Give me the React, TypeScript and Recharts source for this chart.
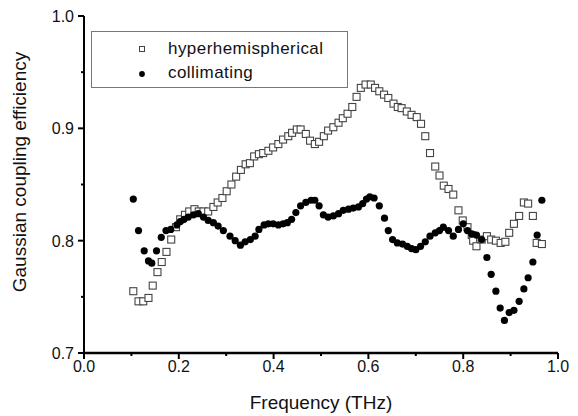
import { ScatterChart, Scatter, XAxis, YAxis, Label } from "recharts";

// frequency (THz) / coupling efficiency
const hyperFreq = [
  0.104, 0.115, 0.125, 0.136, 0.145, 0.155, 0.164, 0.174, 0.184, 0.194, 0.203, 0.213, 0.222,
  0.233, 0.242, 0.252, 0.262, 0.273, 0.282, 0.292, 0.301, 0.311, 0.321, 0.331, 0.341, 0.35,
  0.359, 0.369, 0.378, 0.389, 0.399, 0.41, 0.42, 0.431, 0.439, 0.449, 0.457, 0.468, 0.477,
  0.487, 0.496, 0.506, 0.515, 0.526, 0.537, 0.546, 0.556, 0.566, 0.575, 0.584, 0.594, 0.605,
  0.614, 0.623, 0.633, 0.642, 0.653, 0.662, 0.67, 0.681, 0.691, 0.702, 0.711, 0.72, 0.73,
  0.741, 0.75, 0.759, 0.769, 0.779, 0.79, 0.799, 0.809, 0.818, 0.821, 0.828, 0.839, 0.85,
  0.859, 0.869, 0.879, 0.889, 0.897, 0.907, 0.918, 0.928, 0.937, 0.947, 0.955, 0.966,
];
const hyperEff = [
  0.755, 0.746, 0.746, 0.749, 0.76, 0.772, 0.781, 0.79, 0.801, 0.812, 0.819, 0.823, 0.826,
  0.828, 0.826, 0.826, 0.826, 0.83, 0.834, 0.838, 0.844, 0.85, 0.857, 0.863, 0.868, 0.869,
  0.875, 0.877, 0.878, 0.88, 0.883, 0.886, 0.89, 0.893, 0.896, 0.899, 0.899, 0.895, 0.889,
  0.886, 0.888, 0.893, 0.898, 0.901, 0.905, 0.909, 0.913, 0.919, 0.928, 0.936, 0.939, 0.939,
  0.936, 0.933, 0.93, 0.927, 0.922, 0.919, 0.918, 0.915, 0.912, 0.91, 0.904, 0.893, 0.878,
  0.866, 0.858, 0.849, 0.846, 0.841, 0.827, 0.818, 0.812, 0.805, 0.8, 0.795, 0.801, 0.804,
  0.801, 0.8, 0.798, 0.799, 0.807, 0.815, 0.822, 0.834, 0.833, 0.822, 0.798, 0.797,
];

const collFreq = [
  0.104, 0.115, 0.127, 0.136, 0.143, 0.153, 0.163, 0.173, 0.183, 0.196, 0.203, 0.211, 0.22,
  0.231, 0.241, 0.252, 0.262, 0.273, 0.283, 0.294, 0.308, 0.319, 0.33, 0.34, 0.351, 0.361,
  0.369, 0.38, 0.389, 0.399, 0.41, 0.42, 0.429, 0.438, 0.447, 0.457, 0.468, 0.479, 0.487,
  0.496, 0.505, 0.515, 0.526, 0.537, 0.547, 0.558, 0.568, 0.579, 0.588, 0.596, 0.603, 0.612,
  0.623, 0.634, 0.642, 0.651, 0.661, 0.672, 0.682, 0.691, 0.7, 0.71, 0.72, 0.73, 0.741, 0.75,
  0.758, 0.769, 0.779, 0.79, 0.8, 0.809, 0.818, 0.828, 0.839, 0.85, 0.859, 0.869, 0.878,
  0.887, 0.897, 0.907, 0.918, 0.928, 0.937, 0.947, 0.956, 0.966,
];
const collEff = [
  0.837, 0.809, 0.791, 0.782, 0.78, 0.791, 0.803, 0.809, 0.81, 0.814, 0.817, 0.819, 0.821,
  0.823, 0.824, 0.821, 0.818, 0.816, 0.813, 0.809, 0.804, 0.8, 0.796, 0.799, 0.801, 0.804,
  0.81, 0.814, 0.815, 0.815, 0.814, 0.815, 0.816, 0.819, 0.825, 0.831, 0.834, 0.836, 0.836,
  0.831, 0.823, 0.821, 0.822, 0.824, 0.827, 0.828, 0.829, 0.83, 0.833, 0.837, 0.839, 0.838,
  0.831, 0.82, 0.809, 0.801, 0.798, 0.797, 0.795, 0.793, 0.792, 0.795, 0.799, 0.804, 0.807,
  0.809, 0.812, 0.809, 0.804, 0.81, 0.815, 0.809, 0.806, 0.805, 0.801, 0.785, 0.77, 0.755,
  0.74, 0.729, 0.736, 0.738, 0.746, 0.757, 0.767, 0.781, 0.805, 0.836,
];

const xTicks = [0, 0.1, 0.2, 0.3, 0.4, 0.5, 0.6, 0.7, 0.8, 0.9, 1.0];
const yTicks = [0.7, 0.75, 0.8, 0.85, 0.9, 0.95, 1.0];

const hyperData = hyperFreq.map((f, i) => ({ f, e: hyperEff[i] }));
const collData = collFreq.map((f, i) => ({ f, e: collEff[i] }));

const FONT = "'Liberation Sans', Arial, sans-serif";

const isMajor = (v: number) => Math.abs(Math.round(v * 10) - v * 10) < 1e-6 && Math.round(v * 10) % 2 === 0;
const isMajorY = (v: number) => Math.abs(Math.round(v * 10) - v * 10) < 1e-6;

function XTick({ x, y, payload }: any) {
  const major = isMajor(payload.value);
  return (
    <g>
      <line x1={x} x2={x} y1={y} y2={y + (major ? 6 : 3)} stroke="#000" strokeWidth={2} />
      {major && (
        <text x={x} y={y + 19} textAnchor="middle" fontSize={16} fontFamily={FONT} fill="#111">
          {payload.value.toFixed(1)}
        </text>
      )}
    </g>
  );
}

function YTick({ x, y, payload }: any) {
  const major = isMajorY(payload.value);
  return (
    <g>
      <line x1={x} x2={x - (major ? 6 : 3)} y1={y} y2={y} stroke="#000" strokeWidth={2} />
      {major && (
        <text x={x - 10} y={y + 6} textAnchor="end" fontSize={16} fontFamily={FONT} fill="#111">
          {payload.value.toFixed(1)}
        </text>
      )}
    </g>
  );
}

const SquareMark = ({ cx, cy }: any) => (
  <rect x={cx - 3.5} y={cy - 3.5} width={7} height={7} fill="#fff" stroke="#444" strokeWidth={1.1} />
);
const DotMark = ({ cx, cy }: any) => <circle cx={cx} cy={cy} r={3.6} fill="#000" />;

function LegendBox() {
  return (
    <div
      style={{
        position: "absolute",
        left: 91,
        top: 31,
        width: 257,
        height: 57,
        border: "1px solid #777",
        background: "#fff",
        fontFamily: FONT,
        fontSize: 17,
        letterSpacing: 0.45,
        color: "#111",
        boxSizing: "border-box",
      }}
    >
      <svg width={20} height={56} style={{ position: "absolute", left: 40, top: 0 }}>
        <rect x={7.5} y={14.5} width={5} height={5} fill="#fff" stroke="#444" strokeWidth={1} />
        <circle cx={10} cy={42} r={2.9} fill="#000" />
      </svg>
      <div style={{ position: "absolute", left: 76, top: 7, lineHeight: "20px" }}>hyperhemispherical</div>
      <div style={{ position: "absolute", left: 76, top: 31, lineHeight: "20px" }}>collimating</div>
    </div>
  );
}

export default function App() {
  return (
    <div style={{ position: "absolute", left: 0, top: 0, width: 578, height: 416, background: "#fff" }}>
      <ScatterChart width={578} height={416} margin={{ top: 16, right: 20, bottom: 0, left: 0 }}>
        <XAxis
          xAxisId="b"
          type="number"
          dataKey="f"
          domain={[0, 1]}
          ticks={xTicks}
          interval={0}
          height={63}
          tickSize={0}
          tickMargin={0}
          tickLine={false}
          tick={<XTick />}
          axisLine={{ stroke: "#000", strokeWidth: 2.5 }}
        >
          <Label
            value="Frequency (THz)"
            position="insideBottom"
            offset={7}
            style={{ fontSize: 19, fontFamily: FONT, fill: "#111" }}
          />
        </XAxis>
        <XAxis
          xAxisId="t"
          orientation="top"
          type="number"
          domain={[0, 1]}
          height={0}
          tick={false}
          tickLine={false}
          axisLine={{ stroke: "#000", strokeWidth: 2 }}
        />
        <YAxis
          yAxisId="l"
          type="number"
          dataKey="e"
          domain={[0.7, 1.0]}
          ticks={yTicks}
          interval={0}
          width={84}
          tickSize={0}
          tickMargin={0}
          tickLine={false}
          tick={<YTick />}
          axisLine={{ stroke: "#000", strokeWidth: 2 }}
        >
          <Label
            content={() => (
              <text
                x={26}
                y={172}
                transform="rotate(-90 26 172)"
                textAnchor="middle"
                fontSize={19}
                fontFamily={FONT}
                fill="#111"
              >
                Gaussian coupling efficiency
              </text>
            )}
          />
        </YAxis>
        <YAxis
          yAxisId="r"
          orientation="right"
          type="number"
          domain={[0.7, 1.0]}
          width={0}
          tick={false}
          tickLine={false}
          axisLine={{ stroke: "#000", strokeWidth: 3 }}
        />
        <Scatter
          name="hyperhemispherical"
          data={hyperData}
          xAxisId="b"
          yAxisId="l"
          shape={<SquareMark />}
          isAnimationActive={false}
        />
        <Scatter
          name="collimating"
          data={collData}
          xAxisId="b"
          yAxisId="l"
          shape={<DotMark />}
          isAnimationActive={false}
        />
      </ScatterChart>
      <LegendBox />
    </div>
  );
}
